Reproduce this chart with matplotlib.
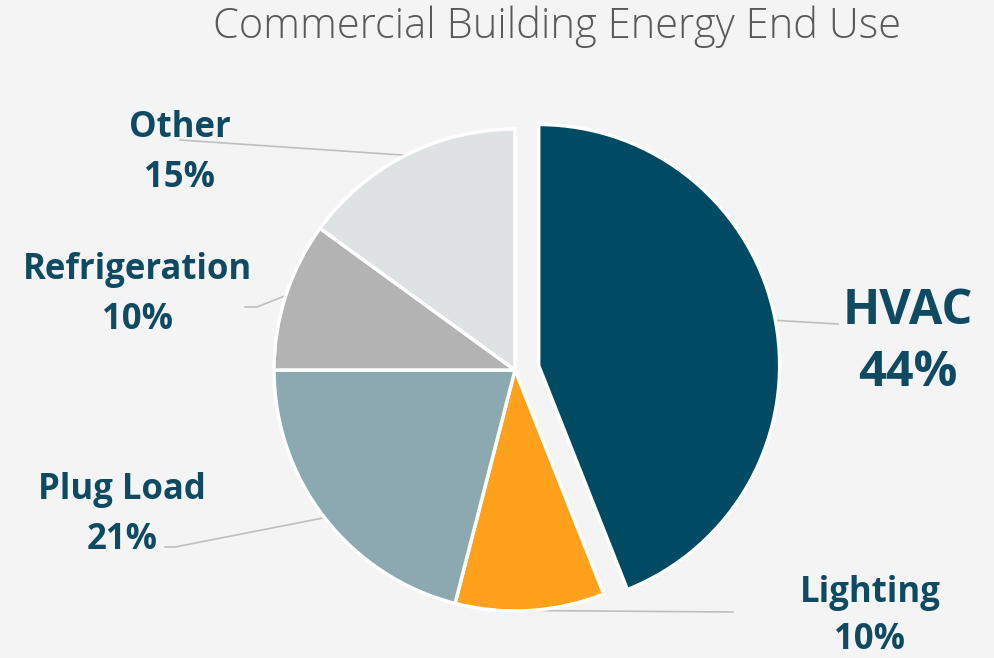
import numpy as np
import matplotlib
matplotlib.use('Agg')
import matplotlib.pyplot as plt

# data
categories = ['HVAC', 'Lighting', 'Plug Load', 'Refrigeration', 'Other']
shares = [44, 10, 21, 10, 15]
colors = ['#004B63', '#FFA11A', '#8CA8B0', '#B3B3B3', '#DEE2E3']
explode = [0.1, 0, 0, 0, 0]

# layout, in image pixels (x right, y down)
W, H = 994, 658
center = (515, 370)
radius = 241
# label centre (name line, percent line), leader elbow, leader end
label_pos = {
    'HVAC': ((908, 312), (908, 374), None, (838, 324)),
    'Lighting': ((870, 593), (870, 640), None, (733, 612)),
    'Plug Load': ((122, 490), (122, 540), (175, 547), (165, 547)),
    'Refrigeration': ((137, 270), (137, 320), (257, 307), (245, 307)),
    'Other': ((180, 128), (180, 178), None, (180, 140)),
}
label_size = {'HVAC': 35}
text_color = '#0E4A61'
line_color = '#BFBFBF'


def img(p):
    return p[0], H - p[1]


fig = plt.figure(figsize=(W / 100, H / 100), dpi=100)
fig.patch.set_facecolor('#F4F4F4')
ax = fig.add_axes([0, 0, 1, 1])

# pie explode is in data units, so scale by radius
wedges, _ = ax.pie(shares, colors=colors, explode=[e * radius for e in explode],
                   center=img(center), radius=radius, startangle=90,
                   counterclock=False,
                   wedgeprops=dict(edgecolor='white', linewidth=2.5))
ax.set_xlim(0, W)
ax.set_ylim(0, H)
ax.set_aspect('equal')
ax.axis('off')

for w, name, val in zip(wedges, categories, shares):
    mid = np.deg2rad((w.theta1 + w.theta2) / 2)
    cx, cy = w.center
    ax_pt = (cx + radius * np.cos(mid), cy + radius * np.sin(mid))
    name_xy, pct_xy, elbow, end = label_pos[name]
    pts = [ax_pt] + ([img(elbow)] if elbow else []) + [img(end)]
    xs, ys = zip(*pts)
    ax.plot(xs, ys, color=line_color, lw=1.2, zorder=0)
    fs = label_size.get(name, 25)
    ax.text(*img(name_xy), name, ha='center', va='center', fontsize=fs,
            fontweight='bold', color=text_color, family='Open Sans')
    ax.text(*img(pct_xy), f'{val}%', ha='center', va='center', fontsize=fs,
            fontweight='bold', color=text_color, family='Open Sans')

ax.text(557, H - 27, 'Commercial Building Energy End Use', ha='center',
        va='center', fontsize=30, color='#595959', family='Open Sans',
        fontweight='light')

fig.savefig('out.png', dpi=100, facecolor=fig.get_facecolor())
